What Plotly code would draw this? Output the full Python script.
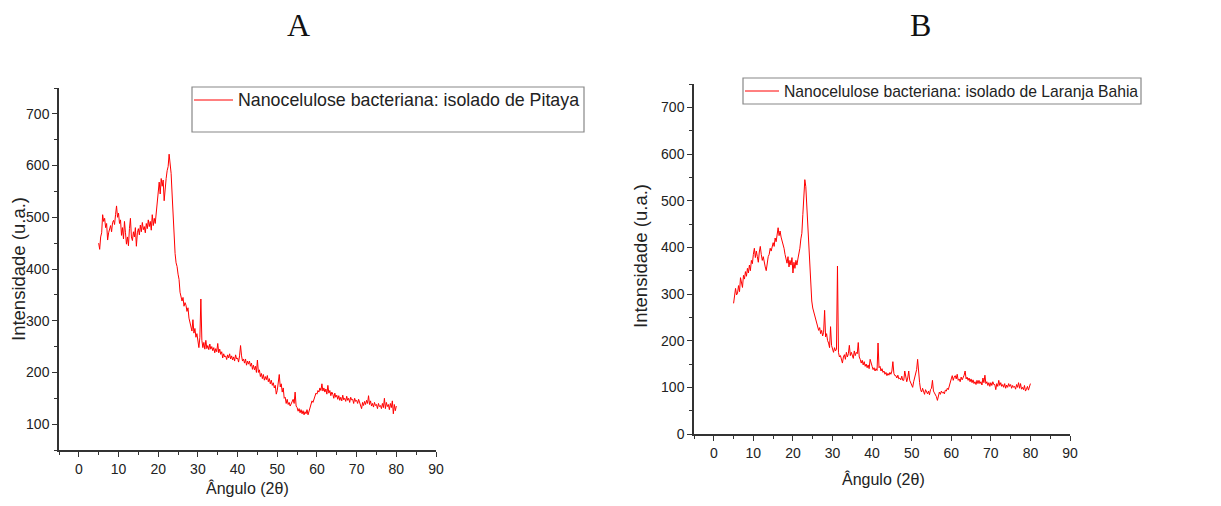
import numpy as np
import plotly.graph_objects as go

# 2-theta grid (0.25 degree steps from 5 to 80)
angle = [5 + 0.25 * i for i in range(301)]

# Panel A: Pitaya
intens_a = [
    450, 438, 462, 470, 505, 492, 498, 480,
    488, 456, 470, 478, 484, 472, 490, 494,
    486, 505, 522, 500, 508, 488, 495, 465,
    480, 458, 492, 470, 448, 462, 445, 478,
    498, 462, 455, 472, 462, 480, 444, 470,
    478, 466, 485, 472, 490, 476, 482, 470,
    488, 478, 495, 482, 492, 475, 505, 484,
    498, 488, 512, 530, 555, 568, 545, 575,
    560, 572, 532, 565, 575, 590, 598, 622,
    605, 585, 545, 505, 455, 430, 412, 405,
    390, 380, 355, 348, 338, 345, 328, 335,
    330, 318, 325, 305, 295, 288, 280, 302,
    276, 285, 268, 275, 262, 248, 268, 342,
    262, 248, 258, 245, 262, 246, 252, 244,
    255, 245, 250, 242, 248, 238, 246, 240,
    256, 238, 245, 235, 240, 228, 236, 230,
    232, 225, 234, 228, 236, 226, 232, 224,
    230, 222, 234, 226, 228, 220, 232, 252,
    232, 222, 226, 218, 226, 214, 222, 216,
    222, 212, 218, 206, 214, 205, 212, 200,
    224, 200, 205, 192, 198, 188, 196, 185,
    192, 186, 194, 182, 188, 178, 185, 175,
    180, 170, 175, 158, 165, 180, 196, 172,
    178, 162, 170, 150, 152, 140, 148, 138,
    142, 135, 140, 145, 148, 140, 162, 135,
    132, 125, 130, 122, 128, 120, 126, 118,
    124, 120, 128, 118, 126, 132, 138, 145,
    142, 150, 155, 160, 158, 165, 162, 170,
    165, 178, 164, 170, 162, 168, 158, 175,
    160, 165, 155, 162, 158, 150, 160, 152,
    156, 148, 155, 146, 152, 145, 156, 147,
    150, 144, 154, 146, 150, 142, 152, 147,
    148, 140, 150, 144, 146, 140, 148, 142,
    138, 130, 142, 136, 144, 138, 146, 140,
    155, 138, 145, 135, 140, 133, 142, 136,
    138, 130, 140, 134, 136, 130, 140, 132,
    150, 130, 142, 134, 138, 128, 140, 132,
    145, 120, 138, 126, 135,
]

# Panel B: Laranja Bahia
intens_b = [
    280, 292, 312, 298, 302, 318, 305, 335,
    325, 314, 340, 332, 348, 338, 355, 345,
    362, 350, 372, 365, 385, 398, 378, 392,
    380, 368, 390, 402, 385, 372, 380, 365,
    358, 350, 372, 380, 385, 398, 392, 405,
    410, 402, 420, 412, 432, 442, 425, 435,
    422, 415, 405, 398, 385, 372, 366, 380,
    358, 372, 362, 378, 345, 368, 355, 372,
    362, 375, 385, 398, 418, 430, 470, 500,
    545, 530, 490, 445, 390, 345, 305, 285,
    270, 262, 252, 245, 240, 232, 222, 228,
    215, 222, 210, 218, 265, 208, 215, 200,
    195, 185, 230, 190, 182, 175, 185, 178,
    182, 360, 175, 165, 168, 158, 152, 165,
    170, 160, 175, 165, 172, 190, 168, 175,
    170, 162, 178, 168, 175, 172, 196, 165,
    160, 152, 158, 148, 155, 145, 150, 142,
    148, 140, 160, 148, 145, 138, 142, 135,
    140, 136, 195, 142, 145, 135, 140, 132,
    135, 128, 132, 125, 130, 126, 132, 128,
    135, 155, 130, 125, 125, 120, 126, 118,
    120, 116, 124, 115, 115, 135, 118, 112,
    120, 135, 115, 110, 105, 100, 112, 120,
    130, 138, 160, 130, 110, 95, 90, 98,
    90, 85, 95, 88, 86, 92, 84, 95,
    98, 115, 92, 88, 85, 80, 72, 82,
    90, 85, 92, 88, 90, 86, 94, 92,
    98, 95, 105, 110, 118, 125, 115, 122,
    125, 118, 128, 115, 118, 112, 122, 116,
    120, 126, 135, 118, 122, 115, 120, 112,
    118, 110, 116, 108, 112, 106, 115, 108,
    115, 108, 112, 105, 120, 110, 126, 108,
    112, 104, 110, 102, 110, 104, 112, 106,
    106, 95, 108, 102, 115, 104, 110, 102,
    106, 100, 108, 98, 105, 100, 108, 102,
    106, 98, 104, 100, 102, 96, 106, 100,
    110, 98, 108, 96, 100, 95, 104, 92,
    96, 102, 94, 100, 108,
]

x_ticks = list(range(0, 91, 10))
panel_titles = ["A", "B"]
legend_names = ["Nanocelulose bacteriana: isolado de Pitaya",
                "Nanocelulose bacteriana: isolado de Laranja Bahia"]
x_title = "Ângulo (2θ)"
y_title = "Intensidade (u.a.)"

# page is 1221x506; the html body has an 8px margin
OFF = 8
W, H = 1221 - 2 * OFF, 506 - 2 * OFF
def px(x):
    return (x - OFF) / W
def py(y):
    return 1 - (y - OFF) / H

FONT = "Liberation Sans, Arial, sans-serif"
RED = "#ff0000"
AX = "#333333"

fig = go.Figure()
fig.add_trace(go.Scatter(x=angle, y=intens_a, mode="lines", line=dict(color=RED, width=1),
                         xaxis="x", yaxis="y", showlegend=False, name=legend_names[0]))
fig.add_trace(go.Scatter(x=angle, y=intens_b, mode="lines", line=dict(color=RED, width=1),
                         xaxis="x2", yaxis="y2", showlegend=False, name=legend_names[1]))

def xaxis_cfg(dom, anchor):
    return dict(domain=dom, anchor=anchor, range=[-5, 90], tickvals=x_ticks, automargin=False,
                showline=True, linecolor=AX, linewidth=1.5, ticks="outside", ticklen=5,
                tickwidth=1.2, tickcolor=AX, showgrid=False, zeroline=False,
                tickfont=dict(family=FONT, size=14, color="#222"),
                minor=dict(dtick=5, tick0=0, ticks="outside", ticklen=3, tickcolor=AX, tickwidth=1))

def yaxis_cfg(dom, anchor, rng):
    return dict(domain=dom, anchor=anchor, range=rng, dtick=100, tick0=0, automargin=False,
                showline=True, linecolor=AX, linewidth=1.5, ticks="outside", ticklen=5,
                tickwidth=1.2, tickcolor=AX, showgrid=False, zeroline=False,
                tickfont=dict(family=FONT, size=14, color="#222"),
                minor=dict(dtick=50, tick0=0, ticks="outside", ticklen=3, tickcolor=AX, tickwidth=1))

fig.update_layout(
    width=W, height=H, margin=dict(l=0, r=0, t=0, b=0),
    paper_bgcolor="white", plot_bgcolor="white",
    xaxis=xaxis_cfg([px(59), px(436)], "y"),
    yaxis=yaxis_cfg([py(450), py(88)], "x", [50, 750]),
    xaxis2=xaxis_cfg([px(694), px(1070)], "y2"),
    yaxis2=yaxis_cfg([py(434), py(84)], "x2", [0, 750]),
)

def ann(x, y, text, size, family=FONT, color="#222", xanchor="center", angle=0):
    return dict(x=px(x), y=py(y), text=text, showarrow=False, xref="paper", yref="paper",
                xanchor=xanchor, yanchor="middle", textangle=angle,
                font=dict(family=family, size=size, color=color))

SERIF = "Liberation Serif, Times New Roman, serif"
anns = [
    ann(298, 25, panel_titles[0], 32, SERIF, "#111"),
    ann(920, 25, panel_titles[1], 32, SERIF, "#111"),
    ann(248, 488, x_title, 16),
    ann(883, 479, x_title, 16),
    ann(18, 269, y_title, 18.5, angle=-90),
    ann(641, 256, y_title, 18.5, angle=-90),
    ann(236, 100, legend_names[0], 17.8, xanchor="left"),
    ann(782, 91, legend_names[1], 15.7, xanchor="left"),
]

shapes = [
    dict(type="rect", xref="paper", yref="paper", x0=px(192), x1=px(584), y0=py(132), y1=py(87),
         line=dict(color="#888", width=1.2), fillcolor="rgba(0,0,0,0)"),
    dict(type="line", xref="paper", yref="paper", x0=px(194), x1=px(233), y0=py(100), y1=py(100),
         line=dict(color=RED, width=1)),
    dict(type="rect", xref="paper", yref="paper", x0=px(743), x1=px(1141), y0=py(104), y1=py(78),
         line=dict(color="#888", width=1.2), fillcolor="rgba(0,0,0,0)"),
    dict(type="line", xref="paper", yref="paper", x0=px(745), x1=px(779), y0=py(91), y1=py(91),
         line=dict(color=RED, width=1)),
]
fig.update_layout(annotations=anns, shapes=shapes)

fig.write_html("out.html")
